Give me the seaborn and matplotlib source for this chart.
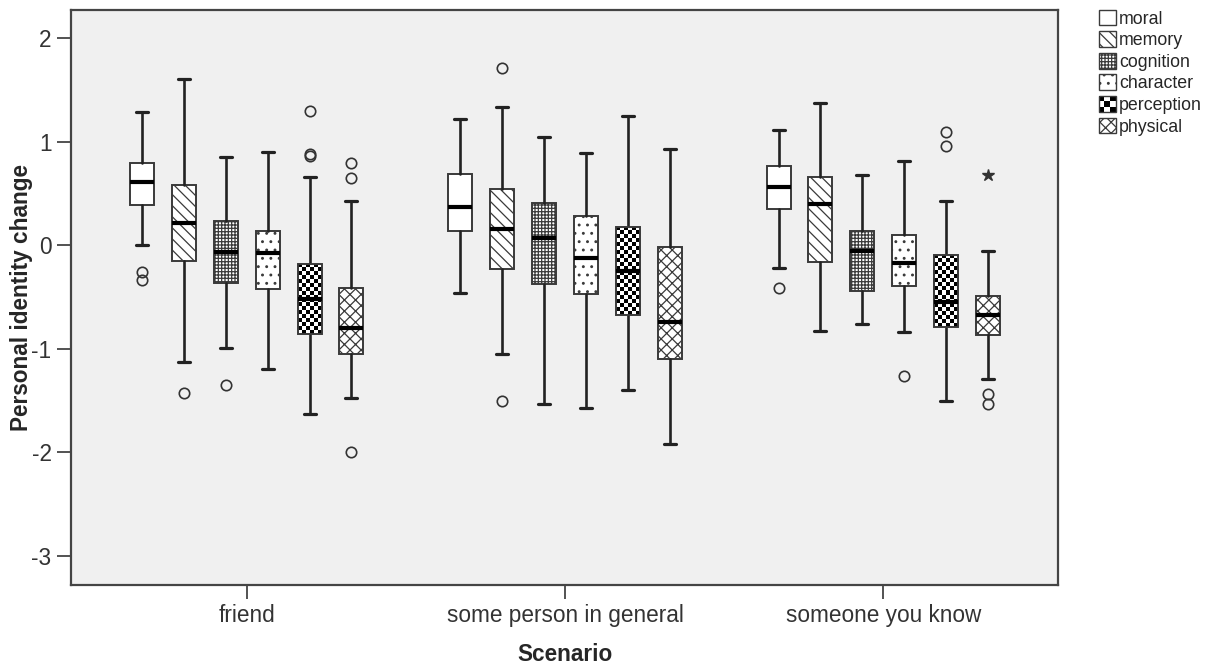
import numpy as np
import matplotlib
matplotlib.use("Agg")
import matplotlib.pyplot as plt
import seaborn as sns
from matplotlib.patches import Patch, Rectangle
from matplotlib.legend_handler import HandlerBase

# Data (box summaries per scenario x category)
scenarios = ['friend', 'some person in general', 'someone you know']
categories = ['moral', 'memory', 'cognition', 'character', 'perception', 'physical']

whis_high = [[1.29, 1.61, 0.85, 0.90, 0.66, 0.43],
             [1.22, 1.34, 1.05, 0.89, 1.25, 0.93],
             [1.11, 1.375, 0.68, 0.81, 0.43, -0.055]]
q3 = [[0.80, 0.58, 0.24, 0.14, -0.18, -0.41],
      [0.69, 0.54, 0.41, 0.28, 0.18, -0.02],
      [0.77, 0.66, 0.14, 0.10, -0.09, -0.49]]
median = [[0.61, 0.22, -0.06, -0.07, -0.52, -0.80],
          [0.37, 0.155, 0.07, -0.125, -0.25, -0.74],
          [0.56, 0.40, -0.05, -0.17, -0.55, -0.67]]
q1 = [[0.385, -0.155, -0.36, -0.42, -0.86, -1.05],
      [0.135, -0.23, -0.37, -0.47, -0.67, -1.10],
      [0.35, -0.16, -0.44, -0.39, -0.79, -0.87]]
whis_low = [[0.00, -1.13, -0.99, -1.19, -1.63, -1.47],
            [-0.46, -1.05, -1.53, -1.57, -1.40, -1.92],
            [-0.215, -0.83, -0.76, -0.84, -1.50, -1.29]]
outliers = [[[-0.26, -0.33], [-1.43], [-1.35], [], [1.30, 0.88, 0.86], [0.80, 0.655, -2.0]],
            [[], [1.71, -1.50], [], [], [], []],
            [[-0.41], [], [], [-1.26], [1.095, 0.957], [-1.44, -1.53]]]
extremes = [[[], [], [], [], [], []],
            [[], [], [], [], [], []],
            [[], [], [], [], [], [0.68]]]

hatches = ['', '\\\\\\', '+++++', '..', None, 'xxx']  # None -> checkerboard

sns.set_style('ticks')
plt.rcParams['font.family'] = ['Liberation Sans', 'DejaVu Sans']
plt.rcParams['hatch.linewidth'] = 0.9
plt.rcParams['axes.unicode_minus'] = False

fig = plt.figure(figsize=(12.11, 6.68), dpi=100)
ax = fig.add_axes([71 / 1211, 1 - 585 / 668, (1058 - 71) / 1211, (585 - 10) / 668])
ax.set_facecolor('#F0F0F0')

step = 0.1316
width = 0.0754
edge = '#3a3a3a'

for i, sc in enumerate(scenarios):
    for j, cat in enumerate(categories):
        pos = i + (j - 2.5) * step
        st = [dict(med=median[i][j], q1=q1[i][j], q3=q3[i][j],
                   whislo=whis_low[i][j], whishi=whis_high[i][j],
                   fliers=outliers[i][j])]
        h = hatches[j]
        res = ax.bxp(st, positions=[pos], widths=[width], patch_artist=True,
                     manage_ticks=False,
                     boxprops=dict(facecolor='white' if h is not None else 'none',
                                   edgecolor=edge, linewidth=1.4,
                                   hatch=h if h else None),
                     whiskerprops=dict(color='#222222', linewidth=1.9),
                     capprops=dict(color='#222222', linewidth=2.3),
                     medianprops=dict(color='black', linewidth=3, zorder=4),
                     flierprops=dict(marker='o', markersize=7.5, markerfacecolor='none',
                                     markeredgecolor='#333333', markeredgewidth=1.2))
        box = res['boxes'][0]
        if h is None:
            # checkerboard texture for "perception"
            box.set_zorder(3)
            ny = max(2, int(round((q3[i][j] - q1[i][j]) * 103.5 / 4)))
            cells = np.indices((ny, 6)).sum(axis=0) % 2
            im = ax.imshow(cells, cmap='gray', interpolation='nearest', aspect='auto',
                           extent=(pos - width / 2, pos + width / 2, q1[i][j], q3[i][j]),
                           zorder=2.5)
            im.set_clip_path(box)
        if extremes[i][j]:
            ax.plot([pos] * len(extremes[i][j]), extremes[i][j], linestyle='none',
                    marker='*', markersize=9, color='#333333')

ax.set_xlim(-0.552, 2.549)
ax.set_ylim(-3.28, 2.273)
ax.set_xticks(range(len(scenarios)))
ax.set_xticklabels(scenarios)
ax.set_yticks([-3, -2, -1, 0, 1, 2])
ax.tick_params(axis='both', length=10, width=1.3, color='#444444',
               labelsize=16.3, labelcolor='#333333', pad=4)
for s in ax.spines.values():
    s.set_color('#444444')
    s.set_linewidth(1.6)
ax.set_xlabel('Scenario', fontsize=16.3, fontweight='bold', labelpad=11)
ax.set_ylabel('Personal identity change', fontsize=16.3, fontweight='bold')
ax.yaxis.set_label_coords(-0.038, 0.5)


class CheckerHandler(HandlerBase):
    def create_artists(self, legend, orig_handle, xdescent, ydescent, width, height,
                       fontsize, trans):
        x0, y0 = -xdescent, -ydescent
        arts = [Rectangle((x0, y0), width, height, facecolor='white', edgecolor='none',
                          transform=trans)]
        cw, ch = width / 3, height / 3
        for r in range(3):
            for c in range(3):
                if (r + c) % 2 == 0:
                    arts.append(Rectangle((x0 + c * cw, y0 + r * ch), cw, ch,
                                          facecolor='black', edgecolor='none', transform=trans))
        arts.append(Rectangle((x0, y0), width, height, facecolor='none', edgecolor=edge,
                              linewidth=1.0, transform=trans))
        return arts


handles = []
for j, cat in enumerate(categories):
    if hatches[j] is None:
        handles.append(Patch(label=cat))
    else:
        handles.append(Patch(facecolor='white', edgecolor=edge, linewidth=1.0,
                             hatch=hatches[j] if hatches[j] else None, label=cat))
perc = handles[4]
fig.legend(handles=handles, labels=categories, loc='upper left',
           bbox_to_anchor=(1095 / 1211, 1 - 6 / 668), frameon=False,
           fontsize=12.8, handlelength=1.0, handleheight=1.0, handletextpad=0.15,
           labelspacing=0.2, borderaxespad=0, borderpad=0.2,
           handler_map={perc: CheckerHandler()})

fig.savefig('out.png', dpi=100)
